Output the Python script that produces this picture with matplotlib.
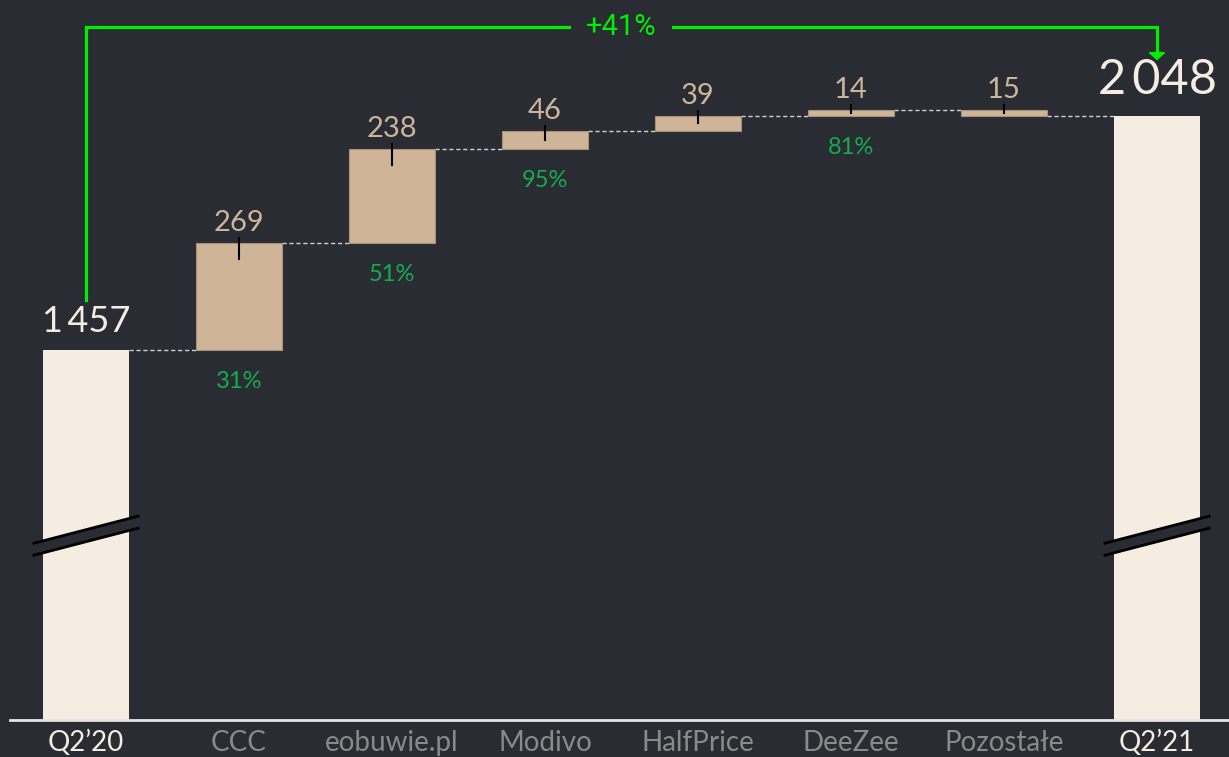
import matplotlib
matplotlib.use('Agg')
import matplotlib.pyplot as plt
from matplotlib.patches import Polygon

plt.rcParams['font.family'] = ['Lato', 'DejaVu Sans']

# dane
categories = ['Q2\u201920', 'CCC', 'eobuwie.pl', 'Modivo', 'HalfPrice', 'DeeZee', 'Pozostałe', 'Q2\u201921']
start_total = 1457
end_total = 2048
deltas = [269, 238, 46, 39, 14, -15]
delta_labels = ['269', '238', '46', '39', '14', '15']
pct_labels = ['31%', '51%', '95%', '', '81%', '']
total_labels = ['1\u2009457', '2\u2009048']

bg = '#292c33'
cream = '#f5ede1'
tan = '#cfb497'
green_pct = '#15ad4c'
green = '#00ee00'

fig = plt.figure(figsize=(12.29, 7.57), dpi=100, facecolor=bg)
ax = fig.add_axes([0, 37 / 757, 1, 720 / 757])
ax.set_facecolor(bg)

y0, y1 = 522.5, 2341
px = (y1 - y0) / 720  # jednostki na piksel
ax.set_ylim(y0, y1)
ax.set_xlim(-86 / 153, (1229 - 86) / 153)
w = 0.56

# slupki sum
for i, v in [(0, start_total), (len(categories) - 1, end_total)]:
    ax.bar(i, v - y0, bottom=y0, width=w, color=cream, zorder=2)

# waterfall
level = start_total
for k, d in enumerate(deltas):
    i = k + 1
    lo, hi = min(level, level + d), max(level, level + d)
    ax.bar(i, hi - lo, bottom=lo, width=w, color=tan, edgecolor='#a8917b', linewidth=0.8, zorder=2)
    # laczniki
    ax.plot([i - 1 + w / 2, i - w / 2], [level, level], color='#d0d0d0', lw=1, dashes=(3, 2), zorder=1)
    # znacznik
    h_px = (hi - lo) / px
    ax.plot([i, i], [hi + 5 * px, hi - min(16, h_px / 2) * px], color='black', lw=1.5, zorder=3)
    ax.annotate(delta_labels[k], (i, hi), xytext=(0, 7), textcoords='offset pixels',
                ha='center', va='bottom', color='#cdb59a', fontsize=21)
    if pct_labels[k]:
        ax.annotate(pct_labels[k], (i, lo), xytext=(0, -21), textcoords='offset pixels',
                    ha='center', va='top', color=green_pct, fontsize=17)
    level += d
ax.plot([len(categories) - 2 + w / 2, len(categories) - 1 - w / 2], [level, level],
        color='#d0d0d0', lw=1, dashes=(3, 2), zorder=1)

# etykiety sum
for i, v, t in [(0, start_total, total_labels[0]), (len(categories) - 1, end_total, total_labels[1])]:
    ax.annotate(t, (i, v), xytext=(0, 12 if i == 0 else 14), textcoords='offset pixels',
                ha='center', va='bottom', color=cream, fontsize=26 if i == 0 else 35)

# przerwanie osi
yb = 988
for i in [0, len(categories) - 1]:
    dx = 0.34
    dy = 13.5 * px
    t = 6 * px
    poly = Polygon([(i - dx, yb - dy - t), (i + dx, yb + dy - t), (i + dx, yb + dy + t), (i - dx, yb - dy + t)],
                   closed=True, facecolor=bg, edgecolor='none', zorder=4)
    ax.add_patch(poly)
    for s in (-t, t):
        ax.plot([i - dx, i + dx], [yb - dy + s, yb + dy + s], color='black', lw=2, zorder=5)

# zielona klamra
yt = 2273
x_last = len(categories) - 1
ax.plot([0, 0, x_last, x_last], [start_total + 126, yt, yt, end_total + 160],
        color=green, lw=2.3, zorder=3, solid_joinstyle='miter')
ax.add_patch(Polygon([(x_last - 0.05, end_total + 160), (x_last + 0.05, end_total + 160),
                      (x_last, end_total + 146 - 3)], closed=True, color=green, zorder=3))
growth = end_total / start_total - 1
ax.text(x_last / 2, yt, f'+{growth * 100:.0f}%', ha='center', va='center', color=green,
        fontsize=21, family=['Roboto', 'DejaVu Sans'],
        bbox=dict(facecolor=bg, edgecolor='none', pad=11), zorder=4)

# os x
ax.axhline(y0 + 0.5, xmin=10 / 1229, xmax=1, color='#e6e6e6', lw=2, zorder=5, clip_on=False)
ax.set_xticks(range(len(categories)))
ax.set_xticklabels(categories, fontsize=20)
ax.tick_params(axis='x', length=0, pad=7)
for j, lab in enumerate(ax.get_xticklabels()):
    lab.set_color(cream if j in (0, len(categories) - 1) else '#8a8a8a')
ax.set_yticks([])
for sp in ax.spines.values():
    sp.set_visible(False)

fig.savefig('out.png', dpi=100, facecolor=bg)
